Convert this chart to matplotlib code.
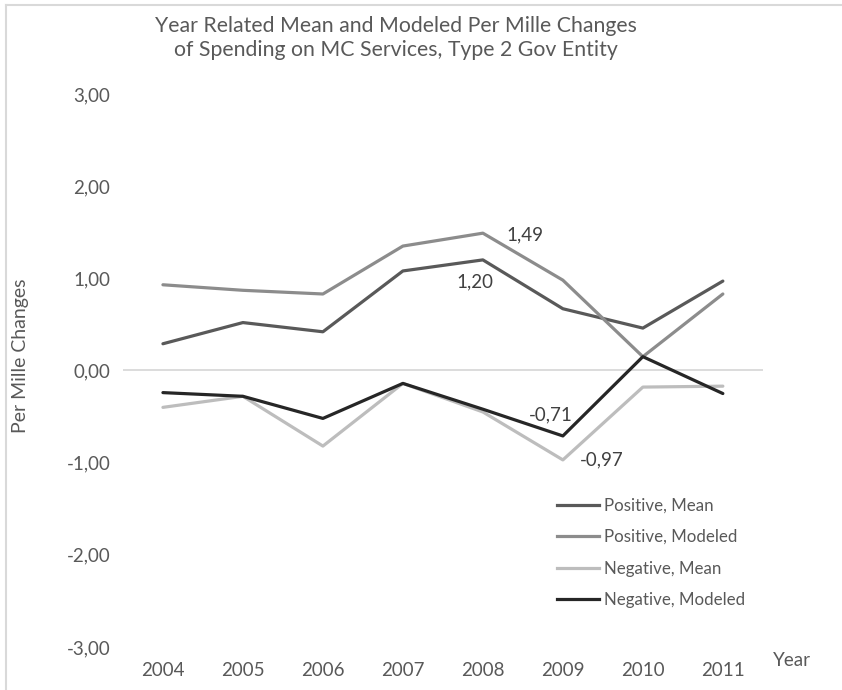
import numpy as np
import matplotlib
matplotlib.use("Agg")
from matplotlib import pyplot as plt
from matplotlib.lines import Line2D

plt.rcParams['font.family'] = ['Lato', 'DejaVu Sans']

years = ['2004', '2005', '2006', '2007', '2008', '2009', '2010', '2011']
pos_mean = [0.29, 0.52, 0.42, 1.08, 1.20, 0.67, 0.46, 0.97]
pos_model = [0.93, 0.87, 0.83, 1.35, 1.49, 0.98, 0.15, 0.83]
neg_mean = [-0.40, -0.28, -0.82, -0.14, -0.45, -0.97, -0.18, -0.17]
neg_model = [-0.24, -0.28, -0.52, -0.14, -0.42, -0.71, 0.15, -0.25]

series = [
    ('Positive, Mean', pos_mean, '#595959'),
    ('Positive, Modeled', pos_model, '#8c8c8c'),
    ('Negative, Mean', neg_mean, '#bdbdbd'),
    ('Negative, Modeled', neg_model, '#262626'),
]

txt = '#595959'

fig = plt.figure(figsize=(8.42, 6.9), dpi=100)
ax = fig.add_axes([0.146, 0.0623, 0.760, 0.8015])

x = np.arange(len(years))
for name, vals, col in series:
    ax.plot(x, vals, color=col, lw=2.3, solid_capstyle='round', label=name)

ax.axhline(0, color='#d9d9d9', lw=1.3, zorder=0)

ax.set_xlim(-0.5, len(years) - 0.5)
ax.set_ylim(-3, 3)
ax.set_yticks(np.arange(-3, 4, 1))
ax.set_yticklabels([('%.2f' % v).replace('.', ',') for v in np.arange(-3, 4, 1)])
ax.set_xticks(x)
ax.set_xticklabels(years)
ax.tick_params(length=0, labelsize=13.5, labelcolor=txt)
ax.tick_params(axis='x', pad=11)
ax.tick_params(axis='y', pad=9)
for s in ax.spines.values():
    s.set_visible(False)

# value labels on the 2008/2009 extremes
def lab(v):
    return ('%.2f' % v).replace('.', ',')

lab_kw = dict(textcoords='offset points', ha='center', va='center', fontsize=13.5, color='#404040')
ax.annotate(lab(pos_model[4]), (4, pos_model[4]), xytext=(30, -1), **lab_kw)
ax.annotate(lab(pos_mean[4]), (4, pos_mean[4]), xytext=(-6, -16), **lab_kw)
ax.annotate(lab(neg_model[5]), (5, neg_model[5]), xytext=(-9, 15), **lab_kw)
ax.annotate(lab(neg_mean[5]), (5, neg_mean[5]), xytext=(28, 0), **lab_kw)

fig.text(0.47, 0.945, 'Year Related Mean and Modeled Per Mille Changes\nof Spending on MC Services, Type 2 Gov Entity',
         ha='center', va='center', fontsize=15.3, color=txt, linespacing=1.3)
fig.text(0.024, 0.485, 'Per Mille Changes', rotation=90, ha='center', va='center', fontsize=14, color=txt)
fig.text(0.94, 0.043, 'Year', ha='center', va='center', fontsize=13.5, color=txt)

handles = [Line2D([], [], color=c, lw=2.3) for _, _, c in series]
leg = ax.legend(handles, [n for n, _, _ in series], loc='lower left', bbox_to_anchor=(0.678, 0.07),
                frameon=False, fontsize=12.2, handlelength=2.5, handletextpad=0.3,
                labelspacing=0.92, borderpad=0, borderaxespad=0, labelcolor=txt)

# light frame around the chart area
fig.add_artist(Line2D([0.007, 0.007], [0, 0.993], color='#d9d9d9', lw=1.5, transform=fig.transFigure))
fig.add_artist(Line2D([0.007, 1], [0.993, 0.993], color='#d9d9d9', lw=1.5, transform=fig.transFigure))

fig.savefig('out.png', dpi=100)
